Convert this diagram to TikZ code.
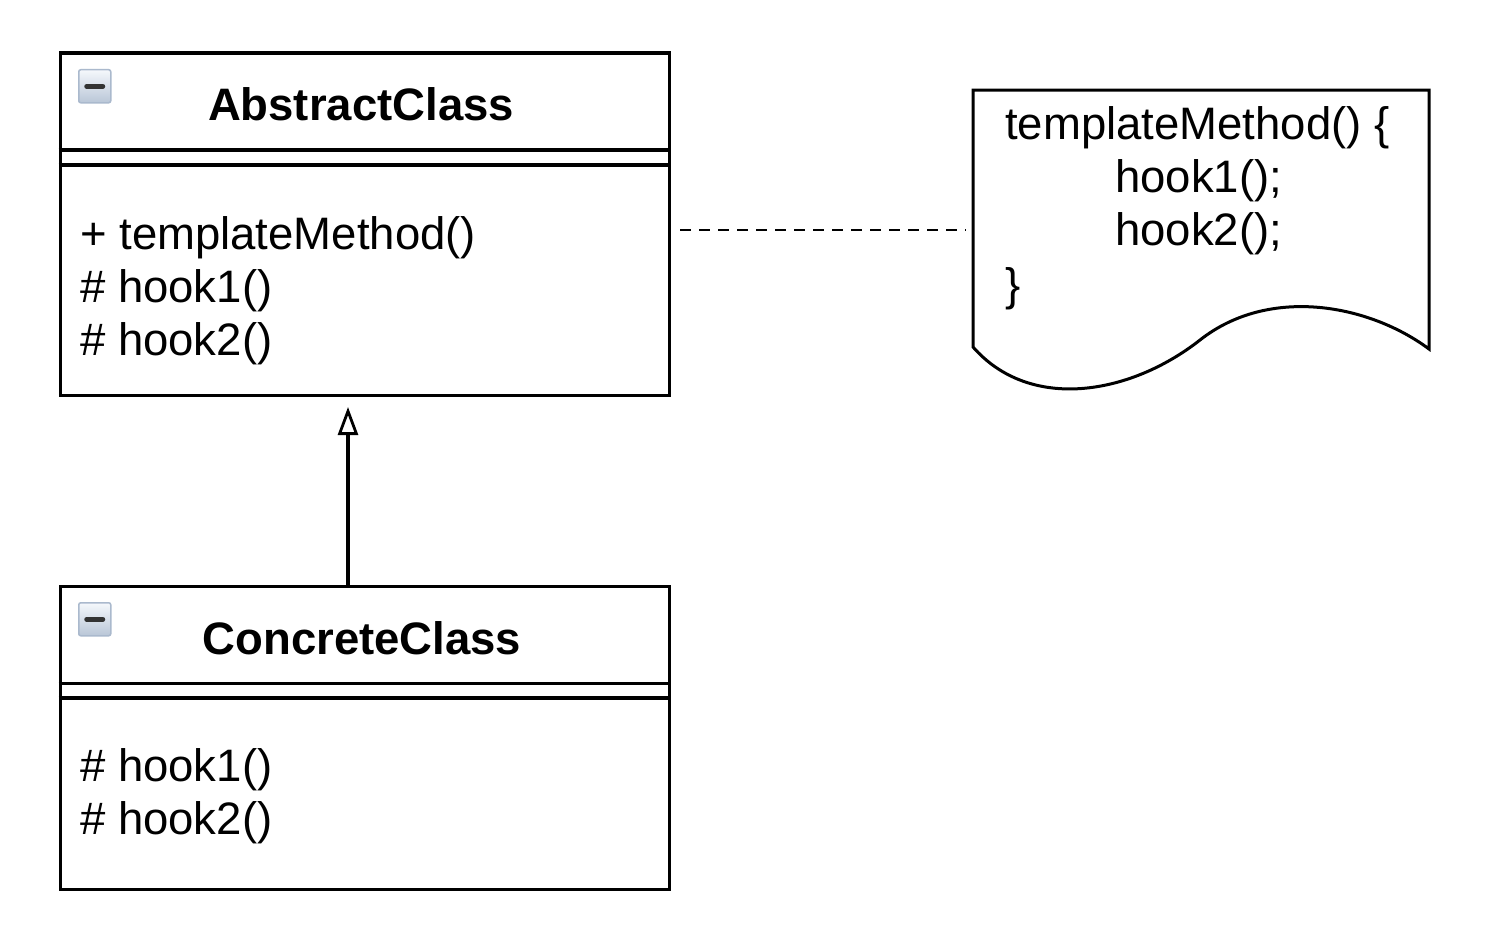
\documentclass[tikz,border=0pt]{standalone}
\usepackage{fontspec}
\setmainfont{Liberation Sans}
\usetikzlibrary{arrows.meta}
\newcommand{\umlfont}{\fontsize{45.5}{53}\selectfont}
\definecolor{iconedge}{RGB}{170,185,205}
\definecolor{icontop}{RGB}{245,248,252}
\definecolor{iconbot}{RGB}{185,198,215}
\tikzset{
  classbox/.style={draw=black, line width=3.4pt, fill=white, inner sep=0pt, anchor=north west},
  sepline/.style={line width=3.4pt},
  txt/.style={font=\umlfont, inner sep=0pt, anchor=base west},
  title/.style={font=\umlfont\bfseries, inner sep=0pt, anchor=base},
  iconbox/.style={draw=iconedge, line width=1.5pt, rounded corners=2pt, top color=icontop, bottom color=iconbot, inner sep=0pt, minimum width=32pt, minimum height=33pt, anchor=north west},
  iconbar/.style={line width=5pt, black!80, line cap=round},
  notebox/.style={draw=black, line width=3pt, fill=white},
}
\begin{document}
\begin{tikzpicture}[x=1pt,y=-1pt]
\useasboundingbox (0,0) rectangle (1502,934);
% AbstractClass
\node[classbox, minimum width=609pt, minimum height=342pt] (abs) at (58.5,51.5) {};
\draw[sepline] (58.5,150) -- (667.5,150);
\draw[sepline] (58.5,165) -- (667.5,165);
\node[iconbox] (absicon) at (78,69) {};
\draw[iconbar] ([xshift=8pt]absicon.center) -- ([xshift=-8pt]absicon.center);
\node[title] (abstitle) at (361,121) {AbstractClass};
\node[txt] (absop1) at (80,249) {+ templateMethod()};
\node[txt] (absop2) at (80,302) {\# hook1()};
\node[txt] (absop3) at (80,355) {\# hook2()};
% ConcreteClass
\node[classbox, minimum width=609pt, minimum height=303pt] (con) at (58.5,585) {};
\draw[sepline] (58.5,683.5) -- (667.5,683.5);
\draw[sepline] (58.5,698) -- (667.5,698);
\node[iconbox] (conicon) at (78,602) {};
\draw[iconbar] ([xshift=8pt]conicon.center) -- ([xshift=-8pt]conicon.center);
\node[title] (context) at (362,654) {ConcreteClass};
\node[txt] (conop1) at (80,781) {\# hook1()};
\node[txt] (conop2) at (80,834) {\# hook2()};
% Note
\draw[notebox] (973,90) -- (1429,90) -- (1429,349)
  .. controls (1370,305) and (1270,285) .. (1200,340)
  .. controls (1130,395) and (1030,412) .. (973,347) -- cycle;
\node[txt] (nt1) at (1005,139) {templateMethod() \{};
\node[txt] (nt2) at (1115,192) {hook1();};
\node[txt] (nt3) at (1115,245) {hook2();};
\node[txt] (nt4) at (1005,300) {\}};
\coordinate (notel) at (966,230);
\coordinate (absr) at (680,230);
\draw[line width=2.8pt, dash pattern=on 11pt off 8pt] (absr) -- (notel);
% Generalization
\draw[line width=3.2pt, -{Triangle[open, length=28pt, width=20pt, line width=2.8pt]}] (348,585) -- (348,407);
\end{tikzpicture}
\end{document}
